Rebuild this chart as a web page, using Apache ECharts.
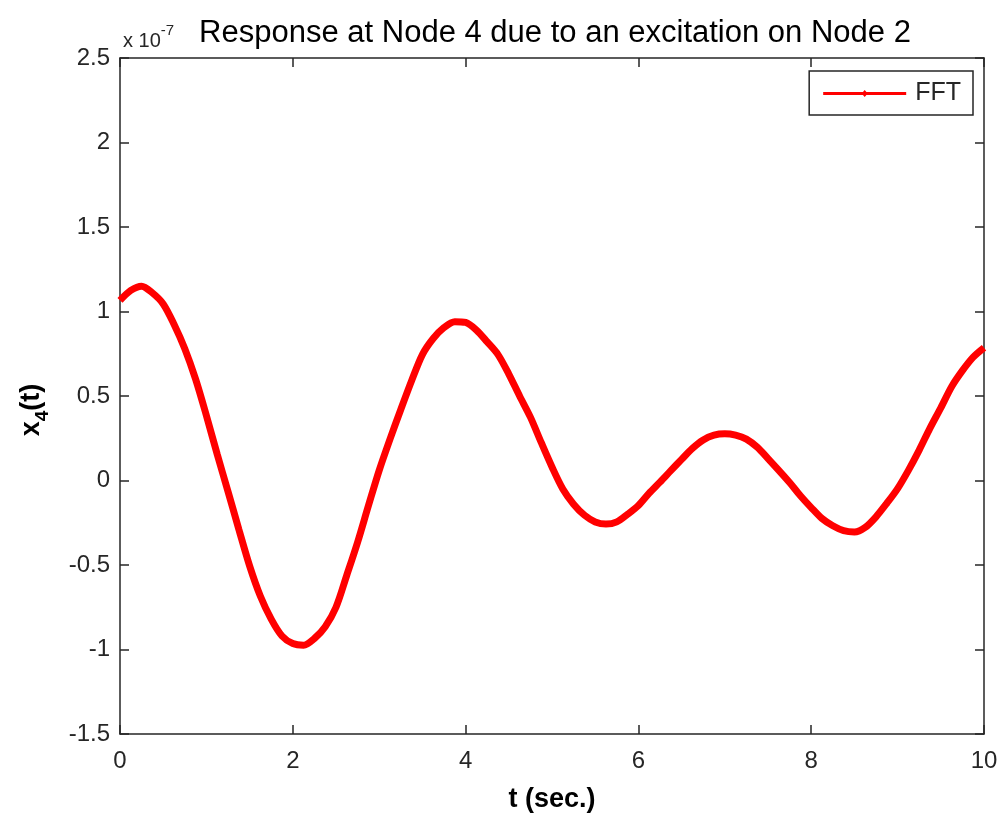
<!DOCTYPE html>
<html>
<head>
<meta charset="utf-8">
<script src="https://cdn.jsdelivr.net/npm/echarts@6/dist/echarts.min.js"></script>
<style>
  html, body { margin: 0; padding: 0; background: #fff; }
  #chart { width: 1001px; height: 818px; }
</style>
</head>
<body>
<div id="chart"></div>
<script>
// Time samples (s), every 0.125 s
const timeSec = [
  0, 0.125, 0.25, 0.375, 0.5, 0.625, 0.75, 0.875,
  1, 1.125, 1.25, 1.375, 1.5, 1.625, 1.75, 1.875,
  2, 2.125, 2.25, 2.375, 2.5, 2.625, 2.75, 2.875,
  3, 3.125, 3.25, 3.375, 3.5, 3.625, 3.75, 3.875,
  4, 4.125, 4.25, 4.375, 4.5, 4.625, 4.75, 4.875,
  5, 5.125, 5.25, 5.375, 5.5, 5.625, 5.75, 5.875,
  6, 6.125, 6.25, 6.375, 6.5, 6.625, 6.75, 6.875,
  7, 7.125, 7.25, 7.375, 7.5, 7.625, 7.75, 7.875,
  8, 8.125, 8.25, 8.375, 8.5, 8.625, 8.75, 8.875,
  9, 9.125, 9.25, 9.375, 9.5, 9.625, 9.75, 9.875,
  10
];
// Displacement of node 4 (in units of 1e-7)
const x4Values = [
  1.066, 1.125, 1.15, 1.11, 1.045, 0.925, 0.78, 0.6,
  0.384, 0.155, -0.065, -0.288, -0.505, -0.685, -0.82, -0.92,
  -0.965, -0.975, -0.935, -0.865, -0.75, -0.56, -0.365, -0.15,
  0.06, 0.245, 0.42, 0.59, 0.745, 0.84, 0.905, 0.94,
  0.935, 0.89, 0.82, 0.745, 0.63, 0.5, 0.375, 0.225,
  0.08, -0.05, -0.14, -0.205, -0.245, -0.258, -0.245, -0.2,
  -0.148, -0.075, -0.01, 0.058, 0.125, 0.19, 0.24, 0.268,
  0.276, 0.268, 0.245, 0.197, 0.13, 0.06, -0.012, -0.09,
  -0.16, -0.225, -0.268, -0.297, -0.305, -0.278, -0.215, -0.135,
  -0.048, 0.06, 0.18, 0.31, 0.43, 0.555, 0.65, 0.73,
  0.786
];
const seriesName = 'FFT';
const xTicks = { min: 0, max: 10, step: 2 };
const yTicks = { min: -1.5, max: 2.5, step: 0.5 };

const points = timeSec.map((t, i) => [t, x4Values[i]]);

const axisColor = '#262626';
const font = 'Liberation Sans, Arial, Helvetica, sans-serif';

const chart = echarts.init(document.getElementById('chart'), null, { renderer: 'canvas' });

const boxAxis = (extra) => Object.assign({
  type: 'value',
  axisLine: { show: true, onZero: false, lineStyle: { color: axisColor, width: 1.5 } },
  axisTick: { show: true, inside: true, length: 9, lineStyle: { color: axisColor, width: 1.5 } },
  splitLine: { show: false },
}, extra);

chart.setOption({
  backgroundColor: '#fff',
  animation: false,
  title: [
    {
      text: 'Response at Node 4 due to an excitation on Node 2',
      left: 550, textAlign: 'center', top: 13,
      textStyle: { fontFamily: font, fontSize: 31, fontWeight: 'normal', color: '#000' }
    },
    {
      text: '{a|x 10}{b|-7}',
      left: 118, top: 18,
      textStyle: {
        fontFamily: font, fontWeight: 'normal',
        rich: {
          a: { fontFamily: font, fontSize: 20, fontWeight: 'normal', color: '#262626', verticalAlign: 'bottom', lineHeight: 28 },
          b: { fontFamily: font, fontSize: 15, fontWeight: 'normal', color: '#262626', verticalAlign: 'top', lineHeight: 14 }
        }
      }
    }
  ],
  grid: { left: 120, right: 17, top: 58, bottom: 79, containLabel: false },
  legend: {
    data: [seriesName],
    right: 28, top: 71,
    orient: 'horizontal',
    backgroundColor: '#fff',
    borderColor: axisColor, borderWidth: 1.5, borderRadius: 0,
    padding: [10, 12, 9, 14],
    itemWidth: 83, itemHeight: 7, itemGap: 0,
    icon: 'path://M0,2 L83,2 L83,5 L0,5 Z M41.5,0 L44.5,3.5 L41.5,7 L38.5,3.5 Z',
    textStyle: { fontFamily: font, fontSize: 25, color: '#262626', padding: [0, 0, 0, 4] }
  },
  xAxis: [
    boxAxis({
      position: 'bottom',
      min: xTicks.min, max: xTicks.max, interval: xTicks.step,
      name: 't (sec.)', nameLocation: 'middle', nameGap: 52,
      nameTextStyle: { fontFamily: font, fontSize: 27, fontWeight: 'bold', color: '#000' },
      axisLabel: { fontFamily: font, fontSize: 24, color: '#262626', margin: 15 }
    }),
    boxAxis({
      position: 'top',
      min: xTicks.min, max: xTicks.max, interval: xTicks.step,
      axisLabel: { show: false }
    })
  ],
  yAxis: [
    boxAxis({
      position: 'left',
      min: yTicks.min, max: yTicks.max, interval: yTicks.step,
      name: '{a|x}{b|4}{a|(t)}', nameLocation: 'middle', nameGap: 68, nameRotate: 90,
      nameTextStyle: {
        fontFamily: font, color: '#000',
        padding: [0, 28, 0, 0],
        rich: {
          a: { fontFamily: font, fontSize: 27, fontWeight: 'bold', color: '#000', verticalAlign: 'top', lineHeight: 34 },
          b: { fontFamily: font, fontSize: 19, fontWeight: 'bold', color: '#000', verticalAlign: 'bottom', lineHeight: 16 }
        }
      },
      axisLabel: { fontFamily: font, fontSize: 24, color: '#262626', margin: 10 }
    }),
    boxAxis({
      position: 'right',
      min: yTicks.min, max: yTicks.max, interval: yTicks.step,
      axisLabel: { show: false }
    })
  ],
  series: [{
    name: seriesName,
    type: 'line',
    data: points,
    smooth: 0.3,
    showSymbol: false,
    symbol: 'none',
    lineStyle: { color: '#ff0000', width: 7 },
    itemStyle: { color: '#ff0000' },
    clip: true
  }]
});
</script>
</body>
</html>
